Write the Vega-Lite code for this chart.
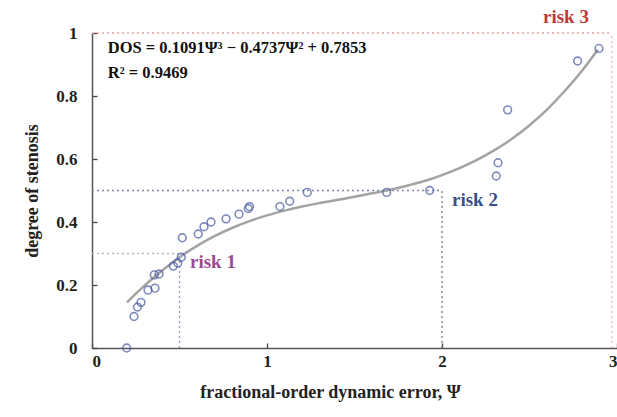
{
  "$schema": "https://vega.github.io/schema/vega-lite/v6.json",
  "width": 525,
  "height": 315,
  "autosize": {"type": "none"},
  "padding": {"left": 92, "top": 33, "right": 0, "bottom": 69},
  "background": "white",
  "config": {
    "view": {"stroke": null},
    "font": "Liberation Serif",
    "axis": {
      "grid": false,
      "domainColor": "#555",
      "domainWidth": 1.5,
      "tickColor": "#444",
      "tickWidth": 1.3,
      "tickSize": -5,
      "labelFont": "Liberation Serif",
      "labelFontWeight": "bold",
      "labelFontSize": 17,
      "labelColor": "#222",
      "titleFont": "Liberation Serif",
      "titleFontWeight": "bold",
      "titleFontSize": 18,
      "titleColor": "#222"
    }
  },
  "resolve": {"scale": {"color": "independent"}},
  "datasets": {
    "obs": [
      {"psi": 0.198, "dos": 0.0},
      {"psi": 0.24, "dos": 0.1},
      {"psi": 0.26, "dos": 0.13},
      {"psi": 0.28, "dos": 0.145},
      {"psi": 0.32, "dos": 0.184},
      {"psi": 0.36, "dos": 0.19},
      {"psi": 0.356, "dos": 0.232},
      {"psi": 0.383, "dos": 0.235},
      {"psi": 0.465, "dos": 0.26},
      {"psi": 0.49, "dos": 0.27},
      {"psi": 0.51, "dos": 0.288},
      {"psi": 0.516, "dos": 0.35},
      {"psi": 0.607, "dos": 0.362},
      {"psi": 0.64, "dos": 0.385},
      {"psi": 0.68, "dos": 0.4},
      {"psi": 0.766, "dos": 0.41},
      {"psi": 0.84, "dos": 0.425},
      {"psi": 0.893, "dos": 0.443},
      {"psi": 0.9, "dos": 0.449},
      {"psi": 1.074, "dos": 0.449},
      {"psi": 1.13, "dos": 0.466},
      {"psi": 1.23, "dos": 0.494},
      {"psi": 1.684, "dos": 0.494},
      {"psi": 1.93, "dos": 0.5},
      {"psi": 2.31, "dos": 0.546},
      {"psi": 2.32, "dos": 0.588},
      {"psi": 2.375, "dos": 0.756},
      {"psi": 2.775, "dos": 0.911},
      {"psi": 2.897, "dos": 0.951}
    ],
    "fit": [
      {"psi": 0.2, "dos": 0.145},
      {"psi": 0.3, "dos": 0.198},
      {"psi": 0.4, "dos": 0.245},
      {"psi": 0.5, "dos": 0.288},
      {"psi": 0.6, "dos": 0.324},
      {"psi": 0.7, "dos": 0.355},
      {"psi": 0.8, "dos": 0.381},
      {"psi": 0.9, "dos": 0.403},
      {"psi": 1.0, "dos": 0.421},
      {"psi": 1.1, "dos": 0.436},
      {"psi": 1.2, "dos": 0.449},
      {"psi": 1.3, "dos": 0.46},
      {"psi": 1.4, "dos": 0.47},
      {"psi": 1.5, "dos": 0.48},
      {"psi": 1.6, "dos": 0.491},
      {"psi": 1.7, "dos": 0.502},
      {"psi": 1.8, "dos": 0.515},
      {"psi": 1.9, "dos": 0.53},
      {"psi": 2.0, "dos": 0.549},
      {"psi": 2.1, "dos": 0.571},
      {"psi": 2.2, "dos": 0.597},
      {"psi": 2.3, "dos": 0.628},
      {"psi": 2.4, "dos": 0.664},
      {"psi": 2.5, "dos": 0.707},
      {"psi": 2.6, "dos": 0.757},
      {"psi": 2.7, "dos": 0.815},
      {"psi": 2.8, "dos": 0.88},
      {"psi": 2.89, "dos": 0.947}
    ],
    "guides": [
      {"g": "h1", "x": 0, "x2": 0.5, "y": 0.3, "y2": 0.3},
      {"g": "v1", "x": 0.5, "x2": 0.5, "y": 0, "y2": 0.3},
      {"g": "h2", "x": 0, "x2": 2, "y": 0.5, "y2": 0.5},
      {"g": "v2", "x": 2, "x2": 2, "y": 0, "y2": 0.5},
      {"g": "h3", "x": 0, "x2": 2.97, "y": 1, "y2": 1},
      {"g": "v3", "x": 2.97, "x2": 2.97, "y": 0, "y2": 1}
    ],
    "labels": [
      {"name": "risk 1", "x": 0.56, "y": 0.273},
      {"name": "risk 2", "x": 2.057, "y": 0.47},
      {"name": "risk 3", "x": 2.577, "y": 1.05}
    ],
    "eq": [
      {"t": "DOS = 0.1091Ψ³ − 0.4737Ψ² + 0.7853", "x": 0.09, "y": 0.952},
      {"t": "R² = 0.9469", "x": 0.09, "y": 0.873}
    ]
  },
  "layer": [
    {
      "data": {"name": "guides"},
      "mark": {"type": "rule", "strokeDash": [2, 3], "strokeWidth": 1.3},
      "encoding": {
        "x": {"field": "x", "type": "quantitative", "scale": {"domain": [0, 3], "nice": false}, "axis": {"values": [0, 1, 2, 3], "format": "d", "title": "fractional-order dynamic error, Ψ", "labelPadding": 10, "titlePadding": 14, "titleX": 238}},
        "x2": {"field": "x2"},
        "y": {"field": "y", "type": "quantitative", "scale": {"domain": [0, 1], "nice": false}, "axis": {"values": [0, 0.2, 0.4, 0.6, 0.8, 1], "format": "~g", "title": "degree of stenosis", "labelPadding": 20, "titlePadding": 14}},
        "y2": {"field": "y2"},
        "color": {"field": "g", "type": "nominal", "legend": null, "scale": {"domain": ["h1", "v1", "h2", "v2", "h3", "v3"], "range": ["#b8b8b8", "#8d9ac0", "#7d88aa", "#7a7a7a", "#e6a3a3", "#eab8b8"]}}
      }
    },
    {
      "data": {"name": "fit"},
      "mark": {"type": "line", "color": "#a3a3a3", "strokeWidth": 2.5, "interpolate": "monotone"},
      "encoding": {
        "x": {"field": "psi", "type": "quantitative"},
        "y": {"field": "dos", "type": "quantitative"}
      }
    },
    {
      "data": {"name": "obs"},
      "mark": {"type": "point", "shape": "circle", "filled": false, "color": "#4a5aa3", "size": 60, "strokeWidth": 1.6},
      "encoding": {
        "x": {"field": "psi", "type": "quantitative"},
        "y": {"field": "dos", "type": "quantitative"}
      }
    },
    {
      "data": {"name": "labels"},
      "mark": {"type": "text", "align": "left", "baseline": "middle", "fontSize": 19, "fontWeight": "bold", "font": "Liberation Serif"},
      "encoding": {
        "x": {"field": "x", "type": "quantitative"},
        "y": {"field": "y", "type": "quantitative"},
        "text": {"field": "name"},
        "color": {"field": "name", "type": "nominal", "legend": null, "scale": {"domain": ["risk 1", "risk 2", "risk 3"], "range": ["#9a4a92", "#3d4f8a", "#c0393b"]}}
      }
    },
    {
      "data": {"name": "eq"},
      "mark": {"type": "text", "align": "left", "baseline": "middle", "fontSize": 16.5, "fontWeight": "bold", "font": "Liberation Serif", "color": "#111"},
      "encoding": {
        "x": {"field": "x", "type": "quantitative"},
        "y": {"field": "y", "type": "quantitative"},
        "text": {"field": "t"}
      }
    }
  ]
}
